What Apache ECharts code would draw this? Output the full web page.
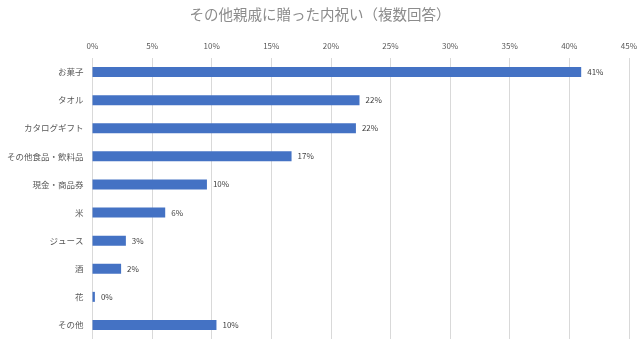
<!DOCTYPE html>
<html><head><meta charset="utf-8">
<script src="https://cdn.jsdelivr.net/npm/echarts@6/dist/echarts.min.js"></script>
<style>html,body{margin:0;padding:0;background:#fff}#c{width:640px;height:339px}</style>
</head><body><div id="c"></div>
<script>
const categories = ['お菓子','タオル','カタログギフト','その他食品・飲料品','現金・商品券','米','ジュース','酒','花','その他'];
const values = [41.0, 22.4, 22.1, 16.7, 9.6, 6.1, 2.8, 2.4, 0.2, 10.4];
const titleText = 'その他親戚に贈った内祝い（複数回答）';
const font = '"Noto Sans CJK JP", sans-serif';
const chart = echarts.init(document.getElementById('c'));
chart.setOption({
  animation: false,
  title: { text: titleText, left: 'center', top: 2,
    textStyle: { color: '#8c8c8c', fontSize: 14.5, fontWeight: 'normal', fontFamily: font } },
  grid: { left: 92.5, right: 11, top: 58, bottom: 0 },
  xAxis: { type: 'value', position: 'top', min: 0, max: 45, interval: 5,
    axisLine: { show: false }, axisTick: { show: false },
    splitLine: { lineStyle: { color: '#d9d9d9', width: 1 } },
    axisLabel: { formatter: '{value}%', color: '#595959', fontSize: 8, fontFamily: font, margin: 8 } },
  yAxis: { type: 'category', inverse: true, data: categories,
    axisLine: { show: false }, axisTick: { show: false },
    axisLabel: { color: '#595959', fontSize: 8.5, fontFamily: font, margin: 9 } },
  series: [{ type: 'bar', data: values, barWidth: 10,
    itemStyle: { color: '#4472c4' },
    label: { show: true, position: 'right', distance: 6, color: '#404040', fontSize: 8, fontFamily: font,
      formatter: p => Math.round(p.value) + '%' } }]
});
</script></body></html>
